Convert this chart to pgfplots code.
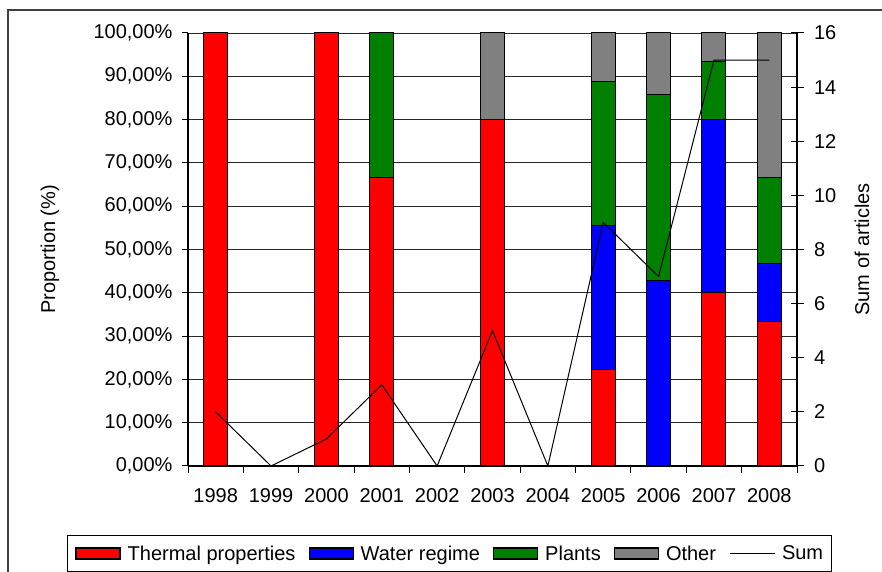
\documentclass[border=0pt]{standalone}
\usepackage{pgfplots}
\pgfplotsset{compat=1.18}
\usepackage{fontspec}
\setmainfont{Liberation Sans}
\newcommand{\chartfont}{\fontsize{20bp}{24bp}\selectfont}
\definecolor{cgreen}{RGB}{0,128,0}
\definecolor{cgray}{RGB}{128,128,128}
\pgfplotsset{
  barleg/.style={legend image code/.code={\draw[##1,line width=1.2bp] (0bp,-5.5bp) rectangle (44bp,5.5bp);}},
  lineleg/.style={legend image code/.code={\draw[##1] (0bp,0bp) -- (45bp,0bp);}},
}
\begin{document}
\begin{tikzpicture}
\useasboundingbox (0,0) rectangle (882bp,572bp);
\draw[line width=1.5bp, black!75] (8bp,562bp) rectangle (900bp,-20bp);
\begin{axis}[
  at={(188bp,106bp)}, anchor=south west, scale only axis,
  width=609bp, height=433bp,
  tick label style={font=\chartfont}, label style={font=\chartfont},
  /pgf/number format/assume math mode=true,
  ybar stacked, bar width=24bp,
  xmin=-0.5, xmax=10.5, ymin=0, ymax=100,
  xtick={0,...,10},
  xticklabels={1998,1999,2000,2001,2002,2003,2004,2005,2006,2007,2008},
  minor xtick={-0.5,0.5,...,10.5},
  major x tick style={draw=none},
  minor tick length=6.7bp, major tick length=6bp,
  tick align=outside,
  ytick={0,10,...,100},
  yticklabels={{0,00\%},{10,00\%},{20,00\%},{30,00\%},{40,00\%},{50,00\%},{60,00\%},{70,00\%},{80,00\%},{90,00\%},{100,00\%}},
  ymajorgrids, grid style={black!85, line width=0.8bp},
  axis x line*=bottom, axis y line*=left,
  axis line style={-, line width=1.5bp, black},
  tick style={black, line width=1bp},
  ylabel={Proportion (\%)},
  ylabel style={at={(axis description cs:-0.2266,0.5)}, anchor=center},
  xticklabel style={yshift=-13bp},
  yticklabel style={xshift=-6bp},
]
% Thermal properties
\addplot[fill=red, draw=black, line width=1bp] coordinates {
 (0,100) (1,0) (2,100) (3,66.667) (4,0) (5,80) (6,0) (7,22.222) (8,0) (9,40) (10,33.333)};
% Water regime
\addplot[fill=blue, draw=black, line width=1bp] coordinates {
 (0,0) (1,0) (2,0) (3,0) (4,0) (5,0) (6,0) (7,33.333) (8,42.857) (9,40) (10,13.333)};
% Plants
\addplot[fill=cgreen, draw=black, line width=1bp] coordinates {
 (0,0) (1,0) (2,0) (3,33.333) (4,0) (5,0) (6,0) (7,33.333) (8,42.857) (9,13.333) (10,20)};
% Other
\addplot[fill=cgray, draw=black, line width=1bp] coordinates {
 (0,0) (1,0) (2,0) (3,0) (4,0) (5,20) (6,0) (7,11.111) (8,14.286) (9,6.667) (10,33.333)};
\end{axis}
\begin{axis}[
  at={(188bp,106bp)}, anchor=south west, scale only axis,
  width=609bp, height=433bp,
  tick label style={font=\chartfont}, label style={font=\chartfont},
  /pgf/number format/assume math mode=true,
  xmin=-0.5, xmax=10.5, ymin=0, ymax=16,
  axis x line=none, axis y line*=right,
  axis line style={-, line width=1.5bp, black},
  ytick={0,2,...,16},
  tick align=center, major tick length=13bp,
  tick style={black, line width=1bp},
  yticklabel style={xshift=7bp},
  ylabel={Sum of articles},
  ylabel style={at={(axis description cs:1.1067,0.5)}, anchor=center},
  legend columns=-1,
  legend style={at={(axis description cs:-0.1987,-0.1594)}, anchor=north west,
    draw=black, line width=1bp, inner xsep=8bp, inner ysep=8bp,
    font=\chartfont, nodes={inner xsep=0bp, inner ysep=2bp},
    /tikz/every odd column/.append style={column sep=7bp},
    /tikz/every even column/.append style={column sep=13bp}},
]
\addlegendimage{barleg, fill=red, draw=black}
\addlegendentry{Thermal properties}
\addlegendimage{barleg, fill=blue, draw=black}
\addlegendentry{Water regime}
\addlegendimage{barleg, fill=cgreen, draw=black}
\addlegendentry{Plants}
\addlegendimage{barleg, fill=cgray, draw=black}
\addlegendentry{Other}
\addplot[lineleg, black, line width=1bp, mark=none] coordinates {
 (0,2) (1,0) (2,1) (3,3) (4,0) (5,5) (6,0) (7,9) (8,7) (9,15) (10,15)};
\addlegendentry{Sum}
\end{axis}
\end{tikzpicture}
\end{document}
